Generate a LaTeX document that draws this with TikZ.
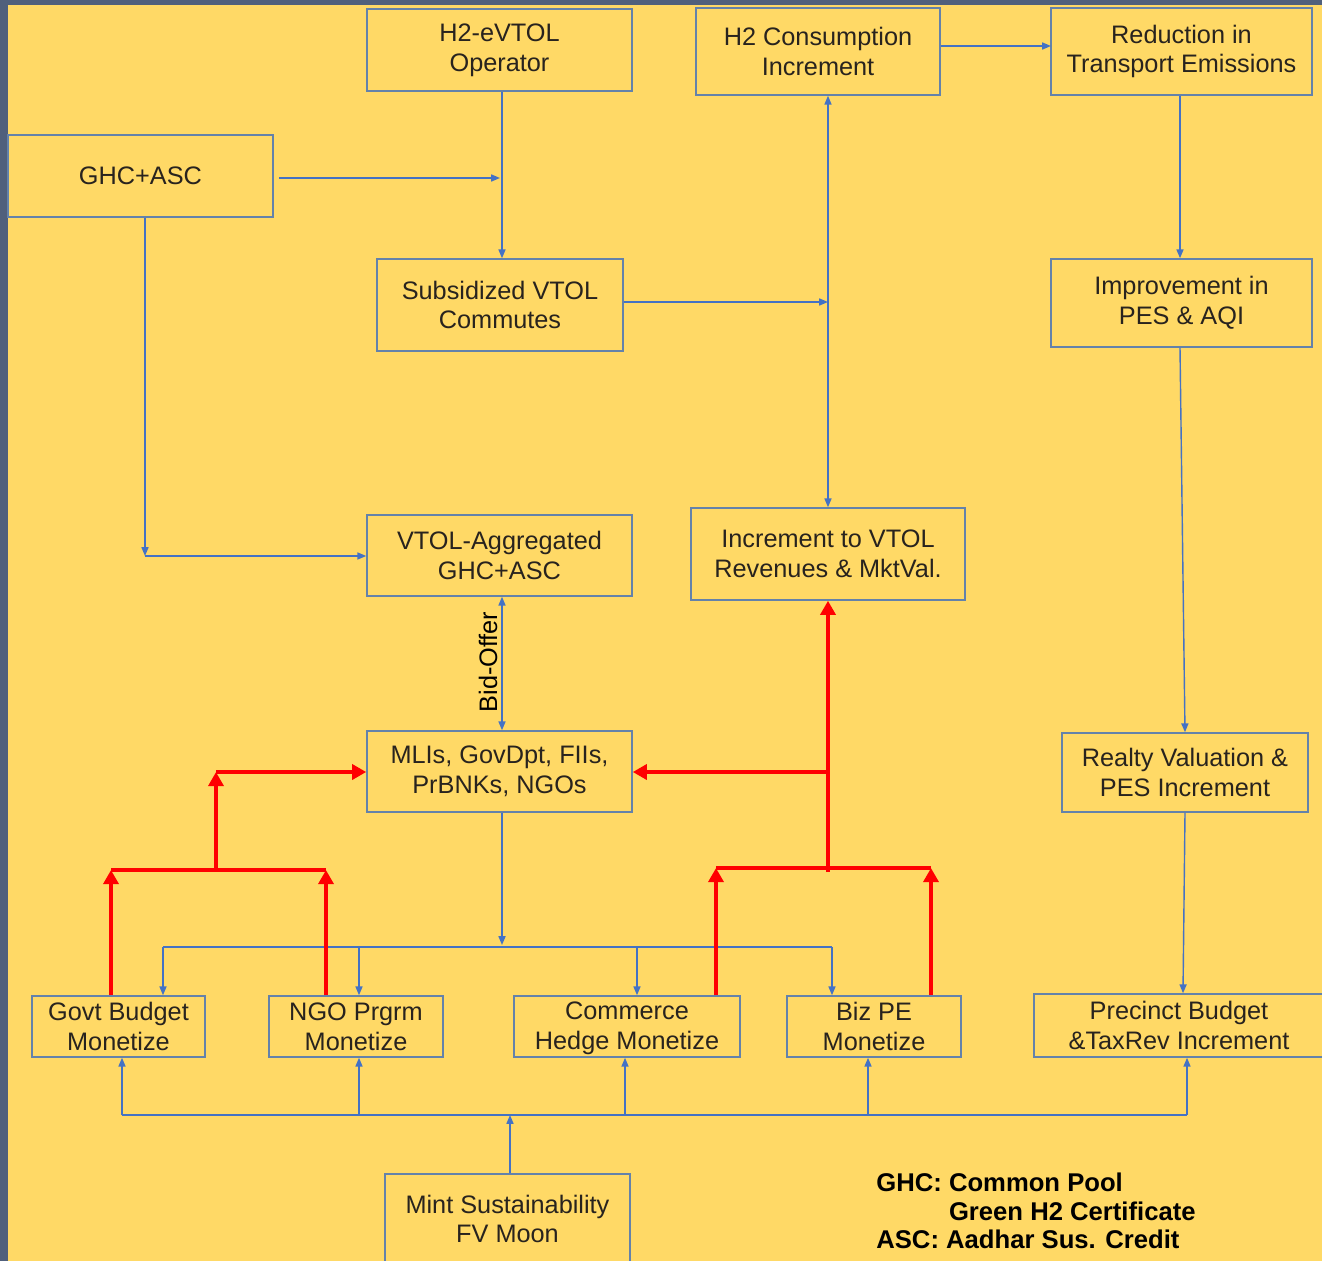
\documentclass[tikz,border=0pt]{standalone}
\usepackage{fontspec}
\setmainfont{Liberation Sans}
\usepackage{tikz}
\usetikzlibrary{arrows.meta,positioning}

\definecolor{bgyellow}{RGB}{255,217,102}
\definecolor{slate}{RGB}{80,96,124}
\definecolor{boxedge}{RGB}{100,130,170}
\definecolor{flowblue}{RGB}{68,114,196}
\definecolor{txt}{RGB}{40,35,30}

\tikzset{
  box/.style={draw=boxedge, line width=0.9pt, inner sep=0pt, align=center, text=txt,
    font=\fontsize{14.4}{17}\selectfont},
  line/.style={draw=flowblue, line width=0.8pt},
  bl/.style={line, -{Triangle[length=5pt,width=4pt]}},
  blb/.style={line, {Triangle[length=5pt,width=4pt]}-{Triangle[length=5pt,width=4pt]}},
  rl/.style={draw=red, line width=2pt},
  rd/.style={rl, -{Triangle[length=8pt,width=8.5pt]}},
}

\begin{document}
\begin{tikzpicture}[x=0.02cm, y=-0.02cm]
\useasboundingbox (0,0) rectangle (1322,1261);
\clip (0,0) rectangle (1322,1261);
\fill[bgyellow] (0,0) rectangle (1322,1261);
\fill[slate] (0,0) rectangle (8,1261);
\fill[slate] (0,0) rectangle (1322,5);

% boxes
\node[box, minimum width=5.30cm, minimum height=1.64cm] (op) at (499.5,50) {H2-eVTOL\\Operator};
\node[box, minimum width=4.88cm, minimum height=1.74cm] (cons) at (818,51.5) {H2 Consumption\\Increment};
\node[box, minimum width=5.22cm, minimum height=1.74cm] (redu) at (1181.5,51.5) {Reduction in\\Transport Emissions};
\node[box, minimum width=5.30cm, minimum height=1.64cm] (ghc) at (140.5,176) {GHC+ASC};
\node[box, minimum width=4.92cm, minimum height=1.84cm] (sub) at (500,305) {Subsidized VTOL\\Commutes};
\node[box, minimum width=5.22cm, minimum height=1.76cm] (imp) at (1181.5,303) {Improvement in\\PES \& AQI};
\node[box, minimum width=5.30cm, minimum height=1.62cm] (agg) at (499.5,555.5) {VTOL-Aggregated\\GHC+ASC};
\node[box, minimum width=5.48cm, minimum height=1.84cm] (rev) at (828,554) {Increment to VTOL\\Revenues \& MktVal.};
\node[box, minimum width=5.30cm, minimum height=1.62cm] (mli) at (499.5,771.5) {MLIs, GovDpt, FIIs,\\PrBNKs, NGOs};
\node[box, minimum width=4.92cm, minimum height=1.58cm] (realty) at (1185,772.5) {Realty Valuation \&\\PES Increment};
\node[box, minimum width=3.46cm, minimum height=1.22cm] (govt) at (118.5,1026.5) {Govt Budget\\Monetize};
\node[box, minimum width=3.48cm, minimum height=1.22cm] (ngo) at (356,1026.5) {NGO Prgrm\\Monetize};
\node[box, minimum width=4.52cm, minimum height=1.22cm] (comm) at (627,1026.5) {\strut Commerce\\Hedge Monetize};
\node[box, minimum width=3.48cm, minimum height=1.22cm] (biz) at (874,1026.5) {Biz PE\\Monetize};
\node[box, minimum width=5.80cm, minimum height=1.26cm] (prec) at (1179,1025.5) {Precinct Budget\\\&TaxRev Increment};
\node[box, minimum width=4.90cm, minimum height=1.80cm] (mint) at (507.5,1219) {Mint Sustainability\\FV Moon};
\node[rotate=90, inner sep=1pt, text=black, font=\fontsize{14.4}{17}\selectfont] (bid) at (488,662) {Bid-Offer};

% legend
\node[anchor=north west, align=left, inner sep=0pt, text=black,
  font=\fontsize{14.6}{16}\selectfont\bfseries] (leg) at (876,1173)
  {GHC: Common Pool\\\phantom{GHC:\ }Green H2 Certificate\\ASC: Aadhar Sus. Credit};

% junction points
\coordinate (m1) at (500,178);
\coordinate (c1) at (145,556);
\coordinate (c2) at (828,302);
\coordinate (k1) at (1051,46);
\coordinate (b0) at (502,945);
\coordinate (d1) at (163,947);
\coordinate (d2) at (359,947);
\coordinate (d3) at (637,947);
\coordinate (d4) at (832,947);
\coordinate (u0) at (510,1115);
\coordinate (u1) at (122,1115);
\coordinate (u2) at (359,1115);
\coordinate (u3) at (625,1115);
\coordinate (u4) at (868,1115);
\coordinate (u5) at (1187,1115);
\coordinate (g1) at (111,870);
\coordinate (g2) at (326,870);
\coordinate (gm) at (216,870);
\coordinate (ga) at (216,772);
\coordinate (h1) at (716,868);
\coordinate (h2) at (931,868);
\coordinate (hm) at (828,872);
\coordinate (ha) at (828,772);

% blue flow
\draw[bl] (op.south -| b0) -- (sub.north -| b0);
\draw[bl] ([xshift=3pt]ghc.east |- m1) -- (m1);
\draw[bl] (ghc.south -| c1) -- (c1);
\draw[bl] (c1) -- (agg.west |- c1);
\draw[bl] (sub.east |- c2) -- (c2);
\draw[blb] (cons.south -| rev) -- (rev);
\draw[bl] (cons.east |- k1) -- (k1);
\draw[bl] (redu.south -| 1180,0) -- (imp.north -| 1180,0);
\draw[bl] (imp.south -| 1180,0) -- (realty.north -| 1185,0);
\draw[bl] (realty.south -| 1185,0) -- (prec.north -| 1183,0);
\draw[blb] (agg.south -| b0) -- (mli.north -| b0);
\draw[bl] (mli.south -| b0) -- (b0);
\draw[line] (d1) -- (d4);
\foreach \d/\n in {d1/govt, d2/ngo, d3/comm, d4/biz}
  \draw[bl] (\d) -- (\d |- \n.north);
\draw[line] (u1) -- (u5);
\foreach \u/\n in {u1/govt, u2/ngo, u3/comm, u4/biz, u5/prec}
  \draw[bl] (\u) -- (\u |- \n.south);
\draw[bl] (mint.north -| u0) -- (u0);

% red flow
\draw[rd] (govt.north -| g1) -- (g1);
\draw[rd] (ngo.north -| g2) -- (g2);
\draw[rl] (g1) -- (g2);
\draw[rd] (gm) -- (ga);
\draw[rd] (ga) -- (mli.west |- ga);
\draw[rd] (comm.north -| h1) -- (h1);
\draw[rd] (biz.north -| h2) -- (h2);
\draw[rl] (h1) -- (h2);
\draw[rd] (hm) -- (rev.south -| hm);
\draw[rd] (ha) -- (mli.east |- ha);
\end{tikzpicture}
\end{document}
